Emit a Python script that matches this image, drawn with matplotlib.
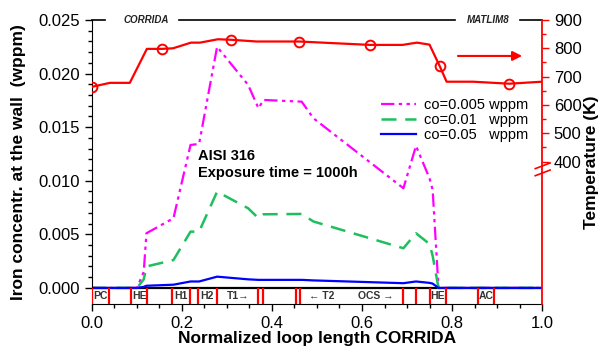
import matplotlib
matplotlib.use("Agg")
import matplotlib.pyplot as plt
from matplotlib.ticker import MultipleLocator, FixedLocator
import matplotlib.transforms as mtransforms

plt.rcParams['font.family'] = ['Liberation Sans', 'DejaVu Sans']

# Temperature along the loop (K)
x_temp = [0.0, 0.04, 0.084, 0.122, 0.155, 0.18, 0.22, 0.24, 0.28, 0.31, 0.366,
          0.46, 0.618, 0.69, 0.722, 0.75, 0.773, 0.788, 0.847, 0.927, 1.0]
temp = [664, 678, 678, 798, 798, 800, 820, 820, 832, 830, 824,
        824, 812, 812, 820, 813, 736, 682, 682, 675, 682]
x_mark = [0.0, 0.155, 0.31, 0.46, 0.618, 0.773, 0.927]
t_mark = [664, 798, 830, 824, 812, 736, 675]

# Iron concentration at the wall (wppm)
x_c = [0.0, 0.10, 0.115, 0.121, 0.181, 0.219, 0.238, 0.278, 0.347, 0.37, 0.381,
       0.466, 0.492, 0.692, 0.72, 0.75, 0.757, 0.77, 0.78, 1.0]
c_005 = [0.0, 0.0, 0.0015, 0.0051, 0.0065, 0.01334, 0.01343, 0.0225, 0.01894, 0.01676, 0.01754,
         0.01738, 0.01583, 0.0093, 0.01325, 0.01023, 0.00914, 0.0, 0.0, 0.0]
c_01 = [0.0, 0.0, 0.0008, 0.002, 0.0026, 0.00525, 0.00525, 0.00898, 0.00743, 0.0065, 0.00687,
        0.0069, 0.0062, 0.0037, 0.0051, 0.0041, 0.0030, 0.0, 0.0, 0.0]
c_05 = [0.0, 0.0, 0.0001, 0.0002, 0.0003, 0.0006, 0.0006, 0.00105, 0.0008, 0.00075, 0.00075,
        0.00075, 0.0007, 0.00044, 0.0006, 0.00047, 0.0004, 0.0, 0.0, 0.0]

# component boundaries and labels in the bottom strip
walls = [0.0, 0.038, 0.086, 0.123, 0.177, 0.218, 0.235, 0.277, 0.37, 0.379, 0.453, 0.462,
         0.692, 0.72, 0.752, 0.786, 0.857, 0.894]
comp_x = [0.019, 0.105, 0.197, 0.256, 0.325, 0.51, 0.63, 0.769, 0.875]
comp_lab = ['PC', 'HE', 'H1', 'H2', u'T1\u2192', u'\u2190 T2', u'OCS \u2192', 'HE', 'AC']

fig = plt.figure(figsize=(6.06, 3.55), dpi=100)
ax = fig.add_axes([0.1518, 0.1437, 0.7426, 0.8])

ax.plot(x_c, c_005, color='#ff00ff', lw=1.6, dashes=[6, 2, 1.5, 2, 1.5, 2], label='co=0.005 wppm')
ax.plot(x_c, c_01, color='#1dbf5e', lw=1.8, dashes=[6, 3.5], label='co=0.01   wppm')
ax.plot(x_c, c_05, color='#0000ff', lw=1.6, label='co=0.05   wppm')

ax.set_xlim(0, 1)
ax.set_ylim(-0.0015, 0.025)
ax.axhline(0, color='black', lw=1.6, zorder=1)
ax.vlines(walls, -0.0015, 0, color='red', lw=1.6, zorder=3)
for xx, lab in zip(comp_x, comp_lab):
    ax.text(xx, -0.00075, lab, ha='center', va='center', fontsize=7.5,
            fontweight='bold', color='#333333', family=['Liberation Sans', 'DejaVu Sans'])

# top reference line with model names
ax.plot([0, 0.03], [0.025, 0.025], color='black', lw=1.2, clip_on=False)
ax.plot([0.193, 0.807], [0.025, 0.025], color='black', lw=1.2, clip_on=False)
ax.plot([0.951, 1.0], [0.025, 0.025], color='black', lw=1.2, clip_on=False)
ax.text(0.12, 0.025, 'CORRIDA', ha='center', va='center', fontsize=7,
        fontweight='bold', style='italic', color='#222222')
ax.text(0.88, 0.025, 'MATLIM8', ha='center', va='center', fontsize=7,
        fontweight='bold', style='italic', color='#222222')

ax.text(0.235, 0.0115, 'AISI 316\nExposure time = 1000h', fontsize=10.5,
        fontweight='bold', linespacing=1.25, va='center')

ax.xaxis.set_major_locator(MultipleLocator(0.2))
ax.xaxis.set_minor_locator(MultipleLocator(0.05))
ax.yaxis.set_major_locator(FixedLocator([0, 0.005, 0.01, 0.015, 0.02, 0.025]))
ax.yaxis.set_minor_locator(FixedLocator([i * 0.001 for i in range(26)]))
ax.yaxis.set_major_formatter(matplotlib.ticker.FormatStrFormatter('%.3f'))
ax.xaxis.set_major_formatter(matplotlib.ticker.FormatStrFormatter('%.1f'))
ax.tick_params(which='both', direction='out', labelsize=12)
ax.tick_params(which='major', length=5, width=1)
ax.tick_params(which='minor', length=3, width=1)
ax.spines['top'].set_visible(False)
ax.spines['right'].set_visible(False)
ax.set_xlabel('Normalized loop length CORRIDA', fontsize=12.5, fontweight='bold', labelpad=0)
ax.set_ylabel('Iron concentr. at the wall  (wppm)', fontsize=12.5, fontweight='bold', labelpad=9)

leg = ax.legend(loc='upper right', bbox_to_anchor=(0.985, 0.75), frameon=False,
                fontsize=10.5, handlelength=2.4, labelspacing=0.05, borderpad=0, handletextpad=0.5)

# temperature on the right axis
ax2 = ax.twinx()
ax2.set_ylim(-103, 900)
ax2.plot(x_temp, temp, color='red', lw=1.6)
ax2.plot(x_mark, t_mark, 'o', mfc='none', mec='red', mew=1.4, ms=7)
ax2.annotate('', xy=(0.962, 773), xytext=(0.807, 773),
             arrowprops=dict(arrowstyle='-|>', color='red', lw=1.5, mutation_scale=14))
ax2.yaxis.set_major_locator(FixedLocator([400, 500, 600, 700, 800, 900]))
ax2.yaxis.set_minor_locator(FixedLocator([450, 550, 650, 750, 850]))
ax2.tick_params(which='both', direction='out', colors='red', labelcolor='black', labelsize=12)
ax2.tick_params(which='major', length=5, width=1)
ax2.tick_params(which='minor', length=3, width=1)
for s in ['top', 'left', 'bottom']:
    ax2.spines[s].set_visible(False)
ax2.spines['right'].set_color('red')
ax2.spines['right'].set_linewidth(1.3)
ax2.set_ylabel('Temperature (K)', fontsize=12.5, fontweight='bold', labelpad=2)

# axis break marks
tr = mtransforms.blended_transform_factory(ax2.transAxes, ax2.transData)
ax2.plot([0.985, 1.018], [375, 395], color='red', lw=1.2, transform=tr, clip_on=False)
ax2.plot([0.985, 1.018], [350, 370], color='red', lw=1.2, transform=tr, clip_on=False)

fig.savefig('out.png', dpi=100)
